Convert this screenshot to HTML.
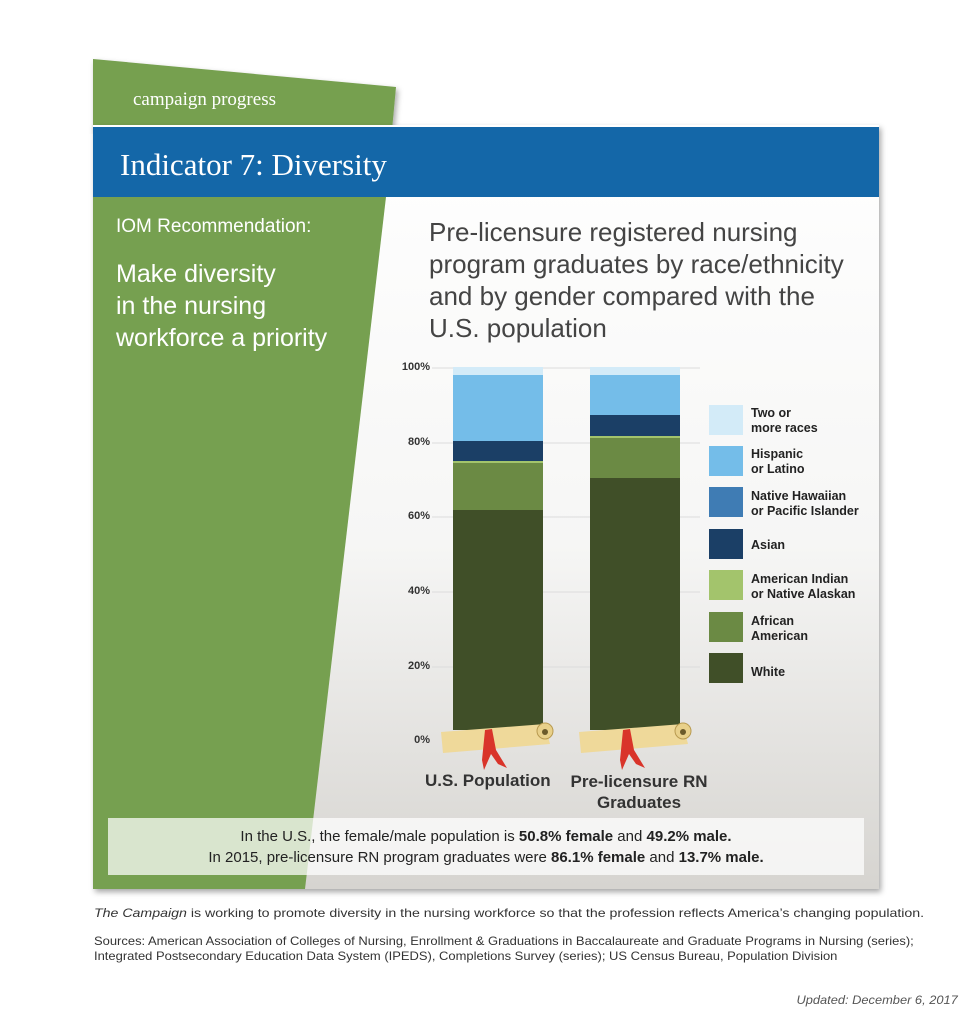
<!DOCTYPE html>
<html><head><meta charset="utf-8"><style>
body{margin:0;width:974px;height:1024px;background:#fff;position:relative;overflow:hidden;font-family:"Liberation Sans",sans-serif}
.a{position:absolute}
</style></head><body>
<svg class="a" style="left:0;top:0" width="974" height="1024">
<defs>
<linearGradient id="cg" x1="0" y1="0" x2="0" y2="1"><stop offset="0" stop-color="#fff"/><stop offset="0.55" stop-color="#f6f6f5"/><stop offset="1" stop-color="#d6d4d0"/></linearGradient>
<filter id="sh" x="-5%" y="-5%" width="110%" height="110%"><feDropShadow dx="2" dy="3" stdDeviation="3" flood-opacity="0.35"/></filter>
</defs>
<polygon points="93,59 396,87 392,130 93,130" fill="#76a050" filter="url(#sh)"/>
<rect x="93" y="125" width="786" height="764" fill="url(#cg)" filter="url(#sh)"/>
<polygon points="93,197 386,197 305,889 93,889" fill="#76a050"/>
<rect x="93" y="127" width="786" height="70" fill="#1467a8"/>
<g stroke="#dcdcdc" stroke-width="1">
<line x1="432" y1="368" x2="700" y2="368"/><line x1="432" y1="443" x2="700" y2="443"/><line x1="432" y1="517" x2="700" y2="517"/><line x1="432" y1="592" x2="700" y2="592"/><line x1="432" y1="667" x2="700" y2="667"/>
</g>
<rect x="453" y="367" width="90" height="8" fill="#d3ebf8"/>
<rect x="453" y="375" width="90" height="66" fill="#74bde9"/>
<rect x="453" y="441" width="90" height="20" fill="#1b3f66"/>
<rect x="453" y="461" width="90" height="2" fill="#a3c46c"/>
<rect x="453" y="463" width="90" height="47" fill="#6b8a44"/>
<rect x="453" y="510" width="90" height="220" fill="#404f28"/>
<rect x="590" y="367" width="90" height="8" fill="#d3ebf8"/>
<rect x="590" y="375" width="90" height="40" fill="#74bde9"/>
<rect x="590" y="415" width="90" height="21" fill="#1b3f66"/>
<rect x="590" y="436" width="90" height="2" fill="#a3c46c"/>
<rect x="590" y="438" width="90" height="40" fill="#6b8a44"/>
<rect x="590" y="478" width="90" height="252" fill="#404f28"/>
<g>
<polygon points="441,732 545,724 550,744 443,753" fill="#efd99a"/><circle cx="545" cy="731" r="8" fill="#e8d08a" stroke="#b89a50"/><circle cx="545" cy="732" r="3" fill="#6b5a2a"/>
<path d="M485,730 L492,729 L496,750 L507,768 L498,764 L491,754 L484,770 L482,760 Z" fill="#d9342a"/>
<polygon points="579,732 683,724 688,744 581,753" fill="#efd99a"/><circle cx="683" cy="731" r="8" fill="#e8d08a" stroke="#b89a50"/><circle cx="683" cy="732" r="3" fill="#6b5a2a"/>
<path d="M623,730 L630,729 L634,750 L645,768 L636,764 L629,754 L622,770 L620,760 Z" fill="#d9342a"/>
</g>
<g>
<rect x="709" y="405" width="34" height="30" fill="#d3ebf8"/>
<rect x="709" y="446" width="34" height="30" fill="#74bde9"/>
<rect x="709" y="487" width="34" height="30" fill="#3f7cb4"/>
<rect x="709" y="529" width="34" height="30" fill="#1b3f66"/>
<rect x="709" y="570" width="34" height="30" fill="#a3c46c"/>
<rect x="709" y="612" width="34" height="30" fill="#6b8a44"/>
<rect x="709" y="653" width="34" height="30" fill="#404f28"/>
</g>
<rect x="108" y="818" width="756" height="57" fill="#ffffff" fill-opacity="0.72"/>
</svg>
<div class="a" style="left:133px;top:89px;font-family:'Liberation Serif',serif;font-size:19px;color:#fff">campaign progress</div>
<div class="a" style="left:120px;top:147px;font-family:'Liberation Serif',serif;font-size:31px;color:#fff">Indicator 7: Diversity</div>
<div class="a" style="left:116px;top:216px;font-size:19px;color:#fff">IOM Recommendation:</div>
<div class="a" style="left:116px;top:258px;font-size:25px;line-height:32px;color:#fff">Make diversity<br>in the nursing<br>workforce a priority</div>
<div class="a" style="left:429px;top:216px;font-size:26px;line-height:32px;color:#444">Pre-licensure registered nursing<br>program graduates by race/ethnicity<br>and by gender compared with the<br>U.S. population</div>
<div class="a" style="left:392px;top:361px;font-size:11px;font-weight:bold;line-height:13px;color:#333;width:38px;text-align:right">
<div style="position:absolute;top:0;right:0">100%</div><div style="position:absolute;top:75px;right:0">80%</div><div style="position:absolute;top:149px;right:0">60%</div><div style="position:absolute;top:224px;right:0">40%</div><div style="position:absolute;top:299px;right:0">20%</div><div style="position:absolute;top:373px;right:0">0%</div></div>
<div class="a" style="left:751px;top:406px;font-size:12.5px;font-weight:bold;line-height:15px;color:#222">
<div style="position:absolute;top:0;white-space:nowrap">Two or<br>more races</div>
<div style="position:absolute;top:41px;white-space:nowrap">Hispanic<br>or Latino</div>
<div style="position:absolute;top:83px;white-space:nowrap">Native Hawaiian<br>or Pacific Islander</div>
<div style="position:absolute;top:132px;white-space:nowrap">Asian</div>
<div style="position:absolute;top:166px;white-space:nowrap">American Indian<br>or Native Alaskan</div>
<div style="position:absolute;top:208px;white-space:nowrap">African<br>American</div>
<div style="position:absolute;top:259px;white-space:nowrap">White</div></div>
<div class="a" style="left:425px;top:771px;font-size:17px;font-weight:bold;color:#333">U.S. Population</div>
<div class="a" style="left:564px;top:771px;width:150px;text-align:center;font-size:17px;font-weight:bold;line-height:21px;color:#333">Pre-licensure RN<br>Graduates</div>
<div class="a" style="left:108px;top:826px;width:756px;text-align:center;font-size:15px;line-height:21px;color:#222">In the U.S., the female/male population is <b>50.8% female</b> and <b>49.2% male.</b><br>In 2015, pre-licensure RN program graduates were <b>86.1% female</b> and <b>13.7% male.</b></div>
<div class="a" style="left:94px;top:906px;font-size:12px;color:#333;white-space:nowrap;transform:scaleX(1.18);transform-origin:0 0"><i>The Campaign</i> is working to promote diversity in the nursing workforce so that the profession reflects America’s changing population.</div>
<div class="a" style="left:94px;top:934px;font-size:12px;line-height:15px;color:#333;white-space:nowrap;transform:scaleX(1.08);transform-origin:0 0">Sources: American Association of Colleges of Nursing, Enrollment &amp; Graduations in Baccalaureate and Graduate Programs in Nursing (series);<br>Integrated Postsecondary Education Data System (IPEDS), Completions Survey (series); US Census Bureau, Population Division</div>
<div class="a" style="right:16px;top:993px;font-size:12px;font-style:italic;color:#555;white-space:nowrap;transform:scaleX(1.07);transform-origin:100% 0">Updated: December 6, 2017</div>
</body></html>
